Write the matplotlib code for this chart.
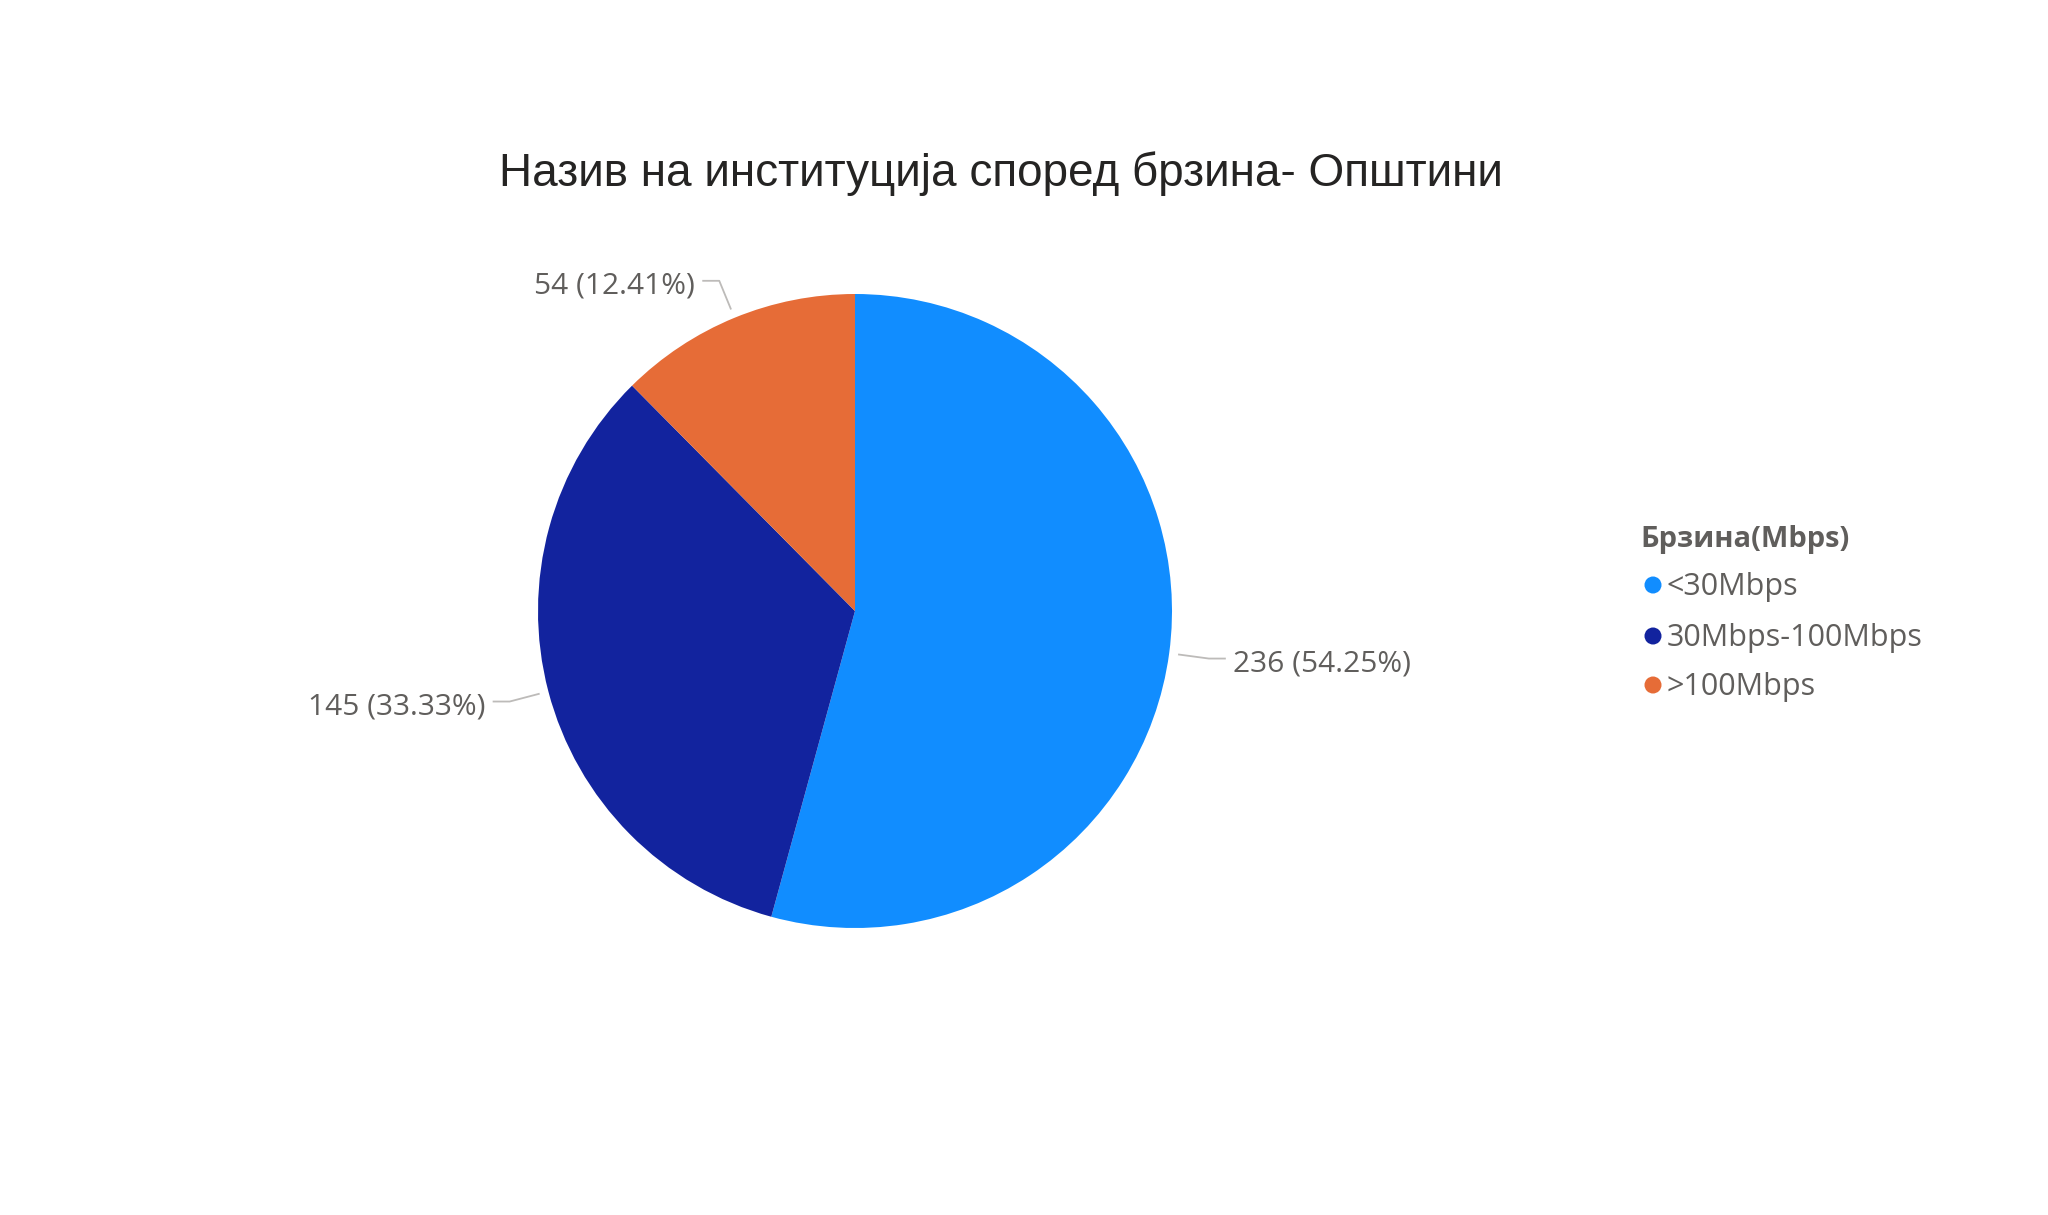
import numpy as np
import matplotlib
matplotlib.use("Agg")
import matplotlib.pyplot as plt

title = "Назив на институција според брзина- Општини"
legend_title = "Брзина(Mbps)"
categories = ["<30Mbps", "30Mbps-100Mbps", ">100Mbps"]
values = [236, 145, 54]
colors = ["#118DFF", "#12239E", "#E66C37"]

W, H = 2048, 1215
fig = plt.figure(figsize=(W / 100, H / 100), dpi=100)
ax = fig.add_axes([0, 0, 1, 1])

cx, cy, r = 855, H - 611, 317
wedges, _ = ax.pie(values, colors=colors, startangle=90, counterclock=False,
                   center=(cx, cy), radius=r, frame=True,
                   wedgeprops=dict(linewidth=0))
ax.set_xlim(0, W)
ax.set_ylim(0, H)
ax.set_aspect("equal")
ax.axis("off")

font = "Open Sans"
gray = "#605E5C"
line_col = "#BDBBB9"
total = sum(values)
for w, v in zip(wedges, values):
    ang = np.deg2rad((w.theta1 + w.theta2) / 2)
    ca, sa = np.cos(ang), np.sin(ang)
    p0 = (cx + (r + 9) * ca, cy + (r + 9) * sa)
    p1 = (cx + (r + 40) * ca, cy + (r + 40) * sa)
    side = 1 if ca >= 0 else -1
    p2 = (p1[0] + side * 17, p1[1])
    ax.plot([p0[0], p1[0], p2[0]], [p0[1], p1[1], p2[1]], color=line_col, lw=1.3,
            solid_capstyle="butt")
    ax.text(p2[0] + side * 7, p2[1] - 5, f"{v} ({v / total * 100:.2f}%)",
            ha="left" if side > 0 else "right", va="center",
            fontsize=21.5, color=gray, family=font)

ax.text(1001, H - 174, title, ha="center", va="center", fontsize=33,
        color="#252423", family="Liberation Sans")

# legend
ax.text(1640, H - 540, legend_title, ha="left", va="center", fontsize=21,
        fontweight="bold", color=gray, family=font)
ys = [585, 636, 685]
for cat, col, y in zip(categories, colors, ys):
    ax.scatter([1653], [H - y], s=150, color=col, edgecolors="none")
    ax.text(1667, H - y - 2, cat, ha="left", va="center", fontsize=22,
            color=gray, family=font)

fig.savefig("out.png", dpi=100, facecolor="white")
